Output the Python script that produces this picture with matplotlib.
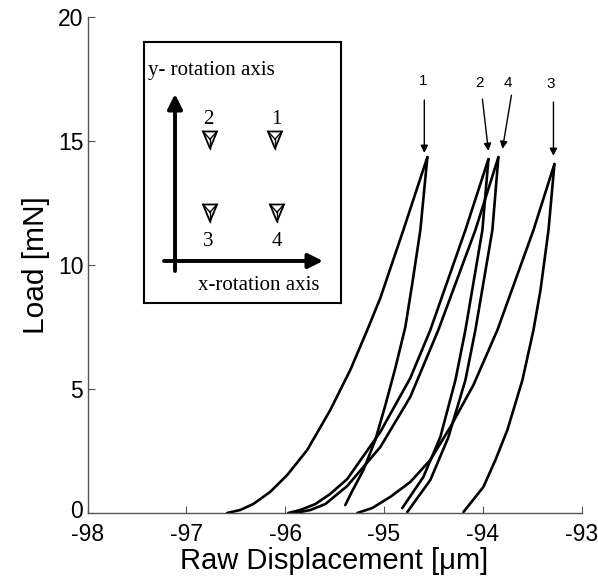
import matplotlib
matplotlib.use("Agg")
import matplotlib.pyplot as plt
import matplotlib.transforms as mtransforms
from matplotlib.patches import Polygon

plt.rcParams['axes.unicode_minus'] = False

# ---------------- data ----------------
c1_load_x = [-96.587, -96.455, -96.323, -96.151, -95.979, -95.776, -95.543, -95.340, -95.168, -95.036, -94.803, -94.560]
c1_load_y = [0.00, 0.12, 0.36, 0.85, 1.53, 2.54, 4.15, 5.77, 7.38, 8.67, 11.41, 14.35]
c1_unl_x = [-94.560, -94.631, -94.712, -94.783, -94.884, -94.985, -95.087, -95.208, -95.320, -95.391]
c1_unl_y = [14.35, 11.41, 9.27, 7.50, 5.85, 4.35, 2.94, 1.73, 0.89, 0.32]

c2_load_x = [-95.968, -95.847, -95.694, -95.543, -95.371, -95.036, -94.733, -94.530, -94.175, -93.942]
c2_load_y = [0.00, 0.12, 0.36, 0.77, 1.37, 3.27, 5.44, 7.38, 11.41, 14.27]
c2_unl_x = [-93.942, -94.003, -94.175, -94.276, -94.429, -94.601, -94.814]
c2_unl_y = [14.27, 11.41, 7.38, 5.36, 3.06, 1.45, 0.20]

c3_load_x = [-95.269, -95.118, -94.935, -94.733, -94.530, -94.327, -94.094, -93.851, -93.486, -93.274]
c3_load_y = [0.00, 0.20, 0.65, 1.25, 2.14, 3.47, 5.16, 7.38, 11.41, 14.07]
c3_unl_x = [-93.274, -93.334, -93.415, -93.486, -93.598, -93.750, -93.871, -93.993, -94.195]
c3_unl_y = [14.07, 11.41, 8.99, 7.38, 5.36, 3.35, 2.14, 1.05, 0.04]

c4_load_x = [-95.897, -95.745, -95.593, -95.371, -95.036, -94.733, -94.449, -94.074, -93.841]
c4_load_y = [0.00, 0.12, 0.36, 1.09, 2.66, 4.68, 7.38, 11.41, 14.35]
c4_unl_x = [-93.841, -93.902, -94.074, -94.175, -94.347, -94.530, -94.763]
c4_unl_y = [14.35, 11.41, 7.38, 5.36, 3.06, 1.33, 0.04]

# arrow annotations: label, text position, arrow tail, arrow head
arrow_labels = ['1', '2', '4', '3']
arrow_text_xy = [(-94.601, 17.42), (-94.034, 17.34), (-93.750, 17.34), (-93.314, 17.30)]
arrow_tail_xy = [(-94.591, 16.65), (-94.003, 16.69), (-93.709, 16.85), (-93.284, 16.57)]
arrow_head_xy = [(-94.591, 14.52), (-93.942, 14.60), (-93.800, 14.68), (-93.284, 14.40)]

x_ticks = [-98, -97, -96, -95, -94, -93]
y_ticks = [0, 5, 10, 15, 20]

# inset diagram (box pixel coordinates)
inset_marker_xy = [(131, 98), (66, 98), (66, 171), (133, 171)]
inset_marker_lbl = ['1', '2', '3', '4']
inset_lbl_xy = [(132, 78), (64, 78), (64, 199), (133, 199)]

# ---------------- figure ----------------
W, H = 598, 583
fig = plt.figure(figsize=(W / 100, H / 100), dpi=100)
ax = fig.add_axes([87.5 / W, 1 - 513 / H, (581.5 - 87.5) / W, (513 - 17) / H])

curves = [(c1_load_x, c1_load_y), (c1_unl_x, c1_unl_y),
          (c2_load_x, c2_load_y), (c2_unl_x, c2_unl_y),
          (c3_load_x, c3_load_y), (c3_unl_x, c3_unl_y),
          (c4_load_x, c4_load_y), (c4_unl_x, c4_unl_y)]
for xs, ys in curves:
    ax.plot(xs, ys, color='black', lw=1.9, solid_joinstyle='round', solid_capstyle='round')

ax.set_xlim(-98, -93)
ax.set_ylim(0, 20)
ax.set_xticks(x_ticks)
ax.set_yticks(y_ticks)
ax.set_xticklabels([str(v) for v in x_ticks], fontfamily='Liberation Sans', fontsize=16.5)
ax.set_yticklabels([str(v) for v in y_ticks], fontfamily='Liberation Sans', fontsize=16.5)
ax.tick_params(direction='in', length=5, width=0.8, color='#555555')
ax.tick_params(axis='x', pad=7)
ax.tick_params(axis='y', pad=3)
for s in ['top', 'right']:
    ax.spines[s].set_visible(False)
for s in ['left', 'bottom']:
    ax.spines[s].set_color('#555555')
    ax.spines[s].set_linewidth(1.0)
ax.set_xlabel('Raw Displacement [\u03bcm]', fontfamily='Liberation Sans', fontsize=21, labelpad=1)
ax.set_ylabel('Load [mN]', fontfamily='Liberation Sans', fontsize=21.5, labelpad=6)

# nudge the "0" y tick label up a little so it clears the "-98" label below it
zero_lbl = ax.get_yticklabels()[0]
zero_lbl.set_transform(zero_lbl.get_transform() +
                       mtransforms.ScaledTranslation(0, 4 / 100, fig.dpi_scale_trans))

for lbl, txy, tail, head in zip(arrow_labels, arrow_text_xy, arrow_tail_xy, arrow_head_xy):
    ax.text(txy[0], txy[1], lbl, ha='center', va='center', fontsize=11, fontfamily='Liberation Sans')
    ax.annotate('', xy=head, xytext=tail,
                arrowprops=dict(arrowstyle='-|>', lw=1.0, color='black', mutation_scale=11,
                                shrinkA=0, shrinkB=0))

# ---------------- inset ----------------
bl, bt, br, bb = 144, 42, 341, 303
axi = fig.add_axes([bl / W, 1 - bb / H, (br - bl) / W, (bb - bt) / H])
axi.set_xlim(0, br - bl)
axi.set_ylim(bb - bt, 0)
axi.set_xticks([])
axi.set_yticks([])
for s in axi.spines.values():
    s.set_linewidth(1.5)
    s.set_color('black')

serif = 'Liberation Serif'
axi.text(4, 29, 'y- rotation axis', ha='left', va='center', fontsize=15, fontfamily=serif)
axi.text(54, 243, 'x-rotation axis', ha='left', va='center', fontsize=15, fontfamily=serif)

# axes arrows
axi.annotate('', xy=(31, 52), xytext=(31, 229),
             arrowprops=dict(arrowstyle='-|>', lw=2.8, color='black', mutation_scale=22,
                             shrinkA=0, shrinkB=0))
axi.annotate('', xy=(179, 219), xytext=(20, 219),
             arrowprops=dict(arrowstyle='-|>', lw=2.8, color='black', mutation_scale=22,
                             shrinkA=0, shrinkB=0))

# indenter markers
tw, th = 14, 17
for (mx, my), lbl, (lx, ly) in zip(inset_marker_xy, inset_marker_lbl, inset_lbl_xy):
    top = my - th / 2
    verts = [(mx - tw / 2, top), (mx + tw / 2, top), (mx, top + th)]
    axi.add_patch(Polygon(verts, closed=True, fill=False, ec='black', lw=1.3, joinstyle='miter'))
    cx, cy = mx, top + th * 0.45
    for vx, vy in verts:
        axi.plot([cx, vx], [cy, vy], color='black', lw=1.0)
    axi.text(lx, ly, lbl, ha='center', va='center', fontsize=15, fontfamily=serif)

fig.savefig('out.png', dpi=100)
